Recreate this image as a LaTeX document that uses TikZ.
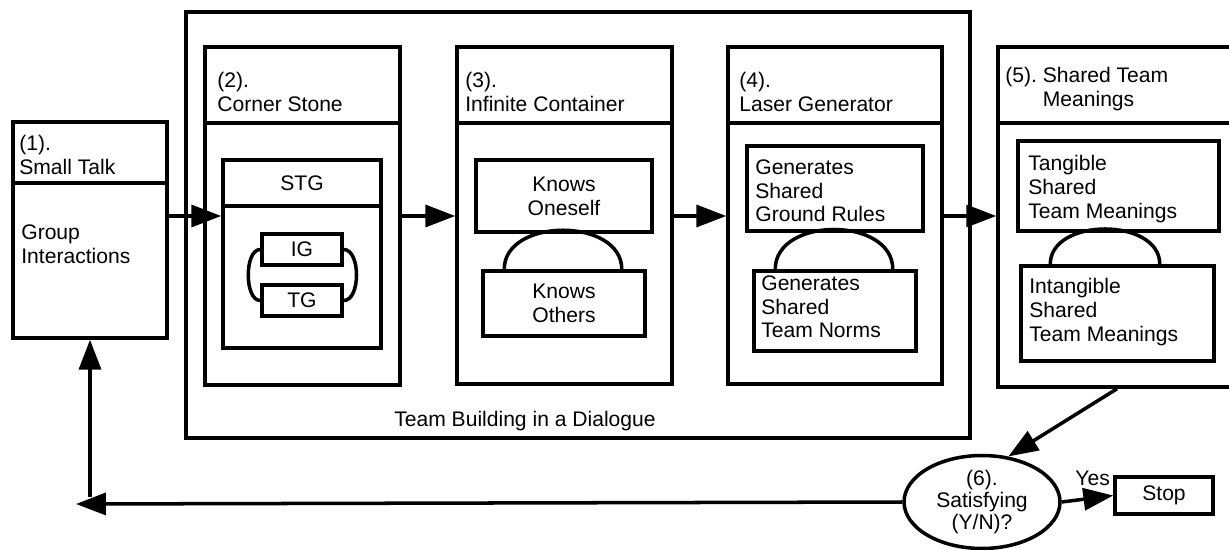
\documentclass[tikz,border=0pt]{standalone}
\usepackage{fontspec}
\setmainfont{Liberation Sans}
\usetikzlibrary{shapes.geometric, arrows.meta, positioning, fit, calc}

\tikzset{
  box/.style={draw, line width=2pt, inner sep=0pt},
  boxtxt/.style={box, label={[align=center]center:{#1}}},
  txt/.style={inner sep=0pt, align=left, anchor=west},
  arr/.style={line width=2pt, -{Triangle[length=17pt,width=12.5pt]}},
  link/.style={line width=2pt},
  decision/.style={draw, ellipse, line width=2pt, minimum width=3.12cm,
                   minimum height=1.86cm, inner sep=0pt},
}

\begin{document}
\begin{tikzpicture}[x=0.02cm, y=-0.02cm, font=\fontsize{12}{13.5}\selectfont]
    \useasboundingbox (0,0) rectangle (1229,550);
    \clip (0,0) rectangle (1229,550);

    % Small talk
    \node[box, fit={(13,122) (167,338)}] (b1) {};
    \node[txt] (t1) at (19,155) {(1).\\Small Talk};
    \node[txt] (g1) at (21,244) {Group\\Interactions};

    % Team building frame
    \node[box, fit={(186,12) (970,438)}] (team) {};
    \node (teamlbl) at (525,421) {Team Building in a Dialogue};

    % Corner stone
    \node[box, fit={(205,47) (400,385)}] (b2) {};
    \node[txt] (t2) at (217,92) {(2).\\Corner Stone};
    \node[box, fit={(223,160) (381,348)}] (stg) {};
    \node (stglbl) at (302,183) {STG};
    \node[boxtxt=IG, fit={(262,234) (342,265)}] (ig) {};
    \node[boxtxt=TG, fit={(262,285) (342,316)}] (tg) {};
    \draw[link] (ig.west) .. controls +(-16,0) and +(-16,0) .. (tg.west);
    \draw[link] (ig.east) .. controls +(17,0) and +(17,0) .. (tg.east);

    % Infinite container
    \node[box, fit={(457,47) (672,384)}] (b3) {};
    \node[txt] (t3) at (465,92) {(3).\\Infinite Container};
    \node[boxtxt={Knows\\Oneself}, fit={(476,160) (652,232)}] (self) {};
    \node[boxtxt={Knows\\Others}, fit={(483,271) (645,336)}] (oth) {};
    \draw[link] ($(oth.north west)+(23,0)$) .. controls +(0,-52) and +(0,-52) .. ($(oth.north east)+(-25,0)$);

    % Laser generator
    \node[box, fit={(728,47) (942,384)}] (b4) {};
    \node[txt] (t4) at (739,92) {(4).\\Laser Generator};
    \node[box, fit={(747,146) (923,231)}] (rules) {};
    \node[txt] (rulestxt) at (755,191) {Generates\\Shared\\Ground Rules};
    \node[box, fit={(754,271) (916,351)}] (norms) {};
    \node[txt] (normstxt) at (761,307) {Generates\\Shared\\Team Norms};
    \draw[link] ($(norms.north west)+(23,0)$) .. controls +(0,-53) and +(0,-53) .. ($(norms.north east)+(-25,0)$);

    % Shared team meanings
    \node[box, fit={(998,47) (1236,387)}] (b5) {};
    \node[txt] (t5) at (1005,89) {(5).~Shared Team\\\hphantom{(5).~}Meanings};
    \node[box, fit={(1018,141) (1219,231)}] (tang) {};
    \node[txt] (tangtxt) at (1028,189) {Tangible\\Shared\\Team Meanings};
    \node[box, fit={(1021,266) (1214,361)}] (intang) {};
    \node[txt] (intangtxt) at (1029,312) {Intangible\\Shared\\Team Meanings};
    \draw[link] ($(intang.north west)+(31,0)$) .. controls +(0,-47) and +(0,-47) .. ($(intang.north east)+(-56,0)$);

    % Header dividers
    \foreach \b/\y in {b1/183, b2/123, b3/123, b4/123, b5/123, stg/206}
        \draw[link] (\b.west |- 0,\y) -- (\b.east |- 0,\y);

    % Decision and stop
    \node[decision, label={[align=center, font=\fontsize{12}{12.5}\selectfont]center:{(6).\\Satisfying\\(Y/N)?}}] (sat) at (982,502) {};
    \node[boxtxt=Stop, fit={(1115,477) (1213,514)}] (stop) {};

    % Flow
    \coordinate (flow) at (0,216);
    \coordinate (back) at (76,504);
    \coordinate (up) at (90,497);
    \draw[arr] (b1.east |- flow) -- (stg.west |- flow);
    \draw[arr] (b2.east |- flow) -- (b3.west |- flow);
    \draw[arr] (b3.east |- flow) -- (b4.west |- flow);
    \draw[arr] (b4.east |- flow) -- (b5.west |- flow);
    \draw[arr] (b5.south) -- (sat.60);
    \draw[arr] (sat.east) -- node[pos=0.6, above=6pt, inner sep=0pt] {Yes} (stop.west);
    \draw[arr] (sat.west) -- (back);
    \draw[arr] (up) -- (b1.south);
\end{tikzpicture}
\end{document}
